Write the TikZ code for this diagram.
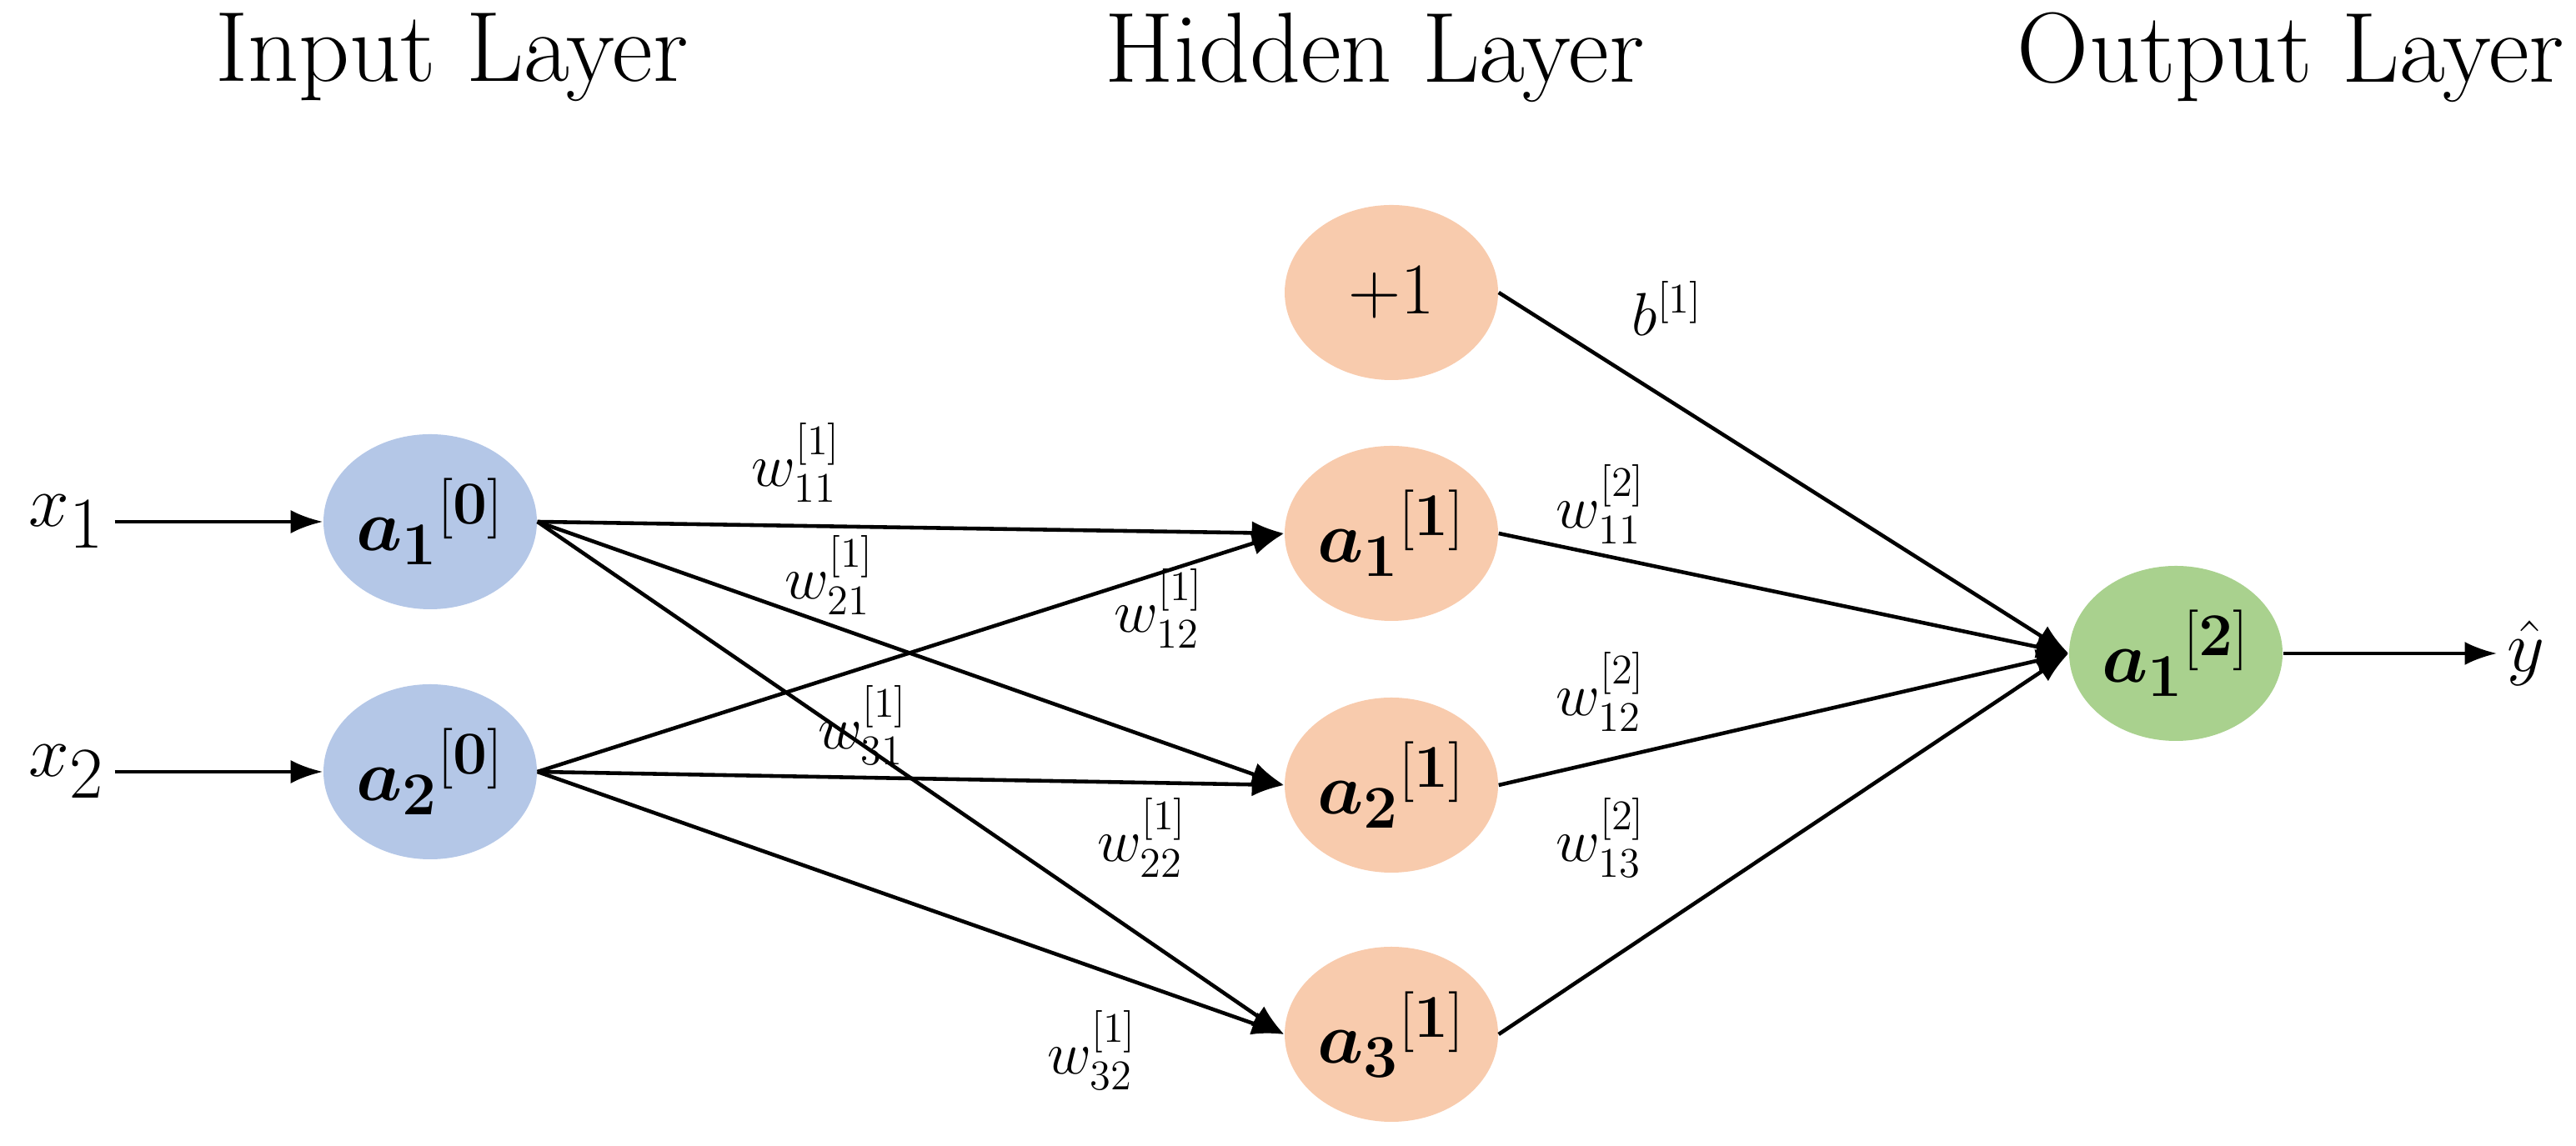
\documentclass[tikz,border=0pt]{standalone}
\usepackage{amsmath,bm}
\usetikzlibrary{arrows.meta,shapes.geometric}
\definecolor{cin}{HTML}{B4C7E7}
\definecolor{chid}{HTML}{F8CBAD}
\definecolor{cout}{HTML}{A9D18E}
\begin{document}
\begin{tikzpicture}[
  neuron/.style={ellipse,minimum width=2.56cm,minimum height=2.1cm,inner sep=0pt,font=\fontsize{28}{32}\selectfont},
  title/.style={font=\fontsize{34}{40}\selectfont},
  lab/.style={font=\fontsize{22}{26}\selectfont},
  big/.style={font=\fontsize{48}{54}\selectfont},
  edge/.style={line width=1.3pt,-{Latex[length=11pt,width=8pt]}}]
\useasboundingbox (0,0) rectangle (30.9,13.75);
\node[title] (t1) at (5.42,13.06) {Input Layer};
\node[title] (t2) at (16.49,13.06) {Hidden Layer};
\node[title] (t3) at (27.48,13.06) {Output Layer};
\node[neuron,fill=cin] (i1) at (5.16,7.49) {$\bm{a}_{\bm{1}}{}^{[\mathbf{0}]}$};
\node[neuron,fill=cin] (i2) at (5.16,4.49) {$\bm{a}_{\bm{2}}{}^{[\mathbf{0}]}$};
\node[neuron,fill=chid] (b) at (16.69,10.24) {$+1$};
\node[neuron,fill=chid] (h1) at (16.69,7.35) {$\bm{a}_{\bm{1}}{}^{[\mathbf{1}]}$};
\node[neuron,fill=chid] (h2) at (16.69,4.33) {$\bm{a}_{\bm{2}}{}^{[\mathbf{1}]}$};
\node[neuron,fill=chid] (h3) at (16.69,1.34) {$\bm{a}_{\bm{3}}{}^{[\mathbf{1}]}$};
\node[neuron,fill=cout] (o) at (26.1,5.91) {$\bm{a}_{\bm{1}}{}^{[\mathbf{2}]}$};
\node[big] (x1) at (0.8,7.49) {$x_1$};
\node[big] (x2) at (0.8,4.49) {$x_2$};
\node[big] (y) at (30.3,5.91) {$\hat{y}$};
\draw[edge] (x1) -- (i1);
\draw[edge] (x2) -- (i2);
\draw[edge] (o) -- (y);
\foreach \i in {i1,i2}{\foreach \h in {h1,h2,h3}{\draw[edge] (\i.east) -- (\h.west);}}
\foreach \h in {h1,h2,h3}{\draw[edge] (\h.east) -- (o.west);}
\draw[edge] (b.east) -- (o.west);
\node[lab] at (9.55,8.2) {$w^{[1]}_{11}$};
\node[lab] at (9.95,6.85) {$w^{[1]}_{21}$};
\node[lab] at (13.9,6.45) {$w^{[1]}_{12}$};
\node[lab] at (10.35,5.05) {$w^{[1]}_{31}$};
\node[lab] at (13.7,3.7) {$w^{[1]}_{22}$};
\node[lab] at (13.1,1.15) {$w^{[1]}_{32}$};
\node[lab] at (20.0,10.05) {$b^{[1]}$};
\node[lab] at (19.2,7.7) {$w^{[2]}_{11}$};
\node[lab] at (19.2,5.45) {$w^{[2]}_{12}$};
\node[lab] at (19.2,3.7) {$w^{[2]}_{13}$};
\end{tikzpicture}
\end{document}
